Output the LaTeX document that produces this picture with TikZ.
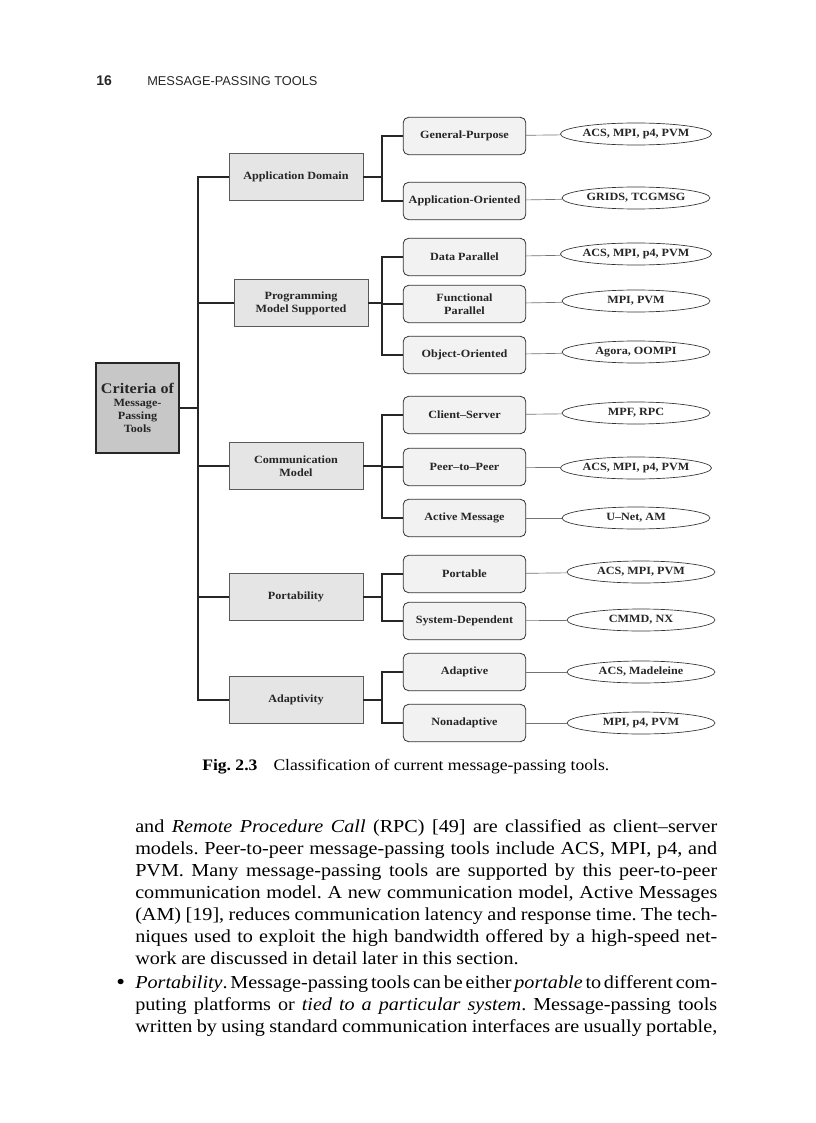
\documentclass[tikz,border=0pt]{standalone}
\usepackage{fontspec}
\setmainfont{Liberation Serif}[FakeStretch=1.10]
\setsansfont{Liberation Sans}
\usetikzlibrary{shapes.geometric}
\frenchspacing
\newcommand\tightwords{\spaceskip=.25em plus .3em minus .12em\relax}

\begin{document}
\begin{tikzpicture}[x=0.75pt,y=-0.75pt]
\tikzstyle{every node}=[inner sep=1pt, text=black!85, align=center, font=\bfseries\fontsize{8.3}{9.7}\selectfont]
\tikzstyle{root}=[draw=black!85, line width=1.4pt, fill=black!22, minimum width=62pt, minimum height=67.5pt]
\tikzstyle{group}=[draw=black!65, line width=.6pt, fill=black!10, minimum width=100.5pt, minimum height=35pt]
\tikzstyle{kind}=[draw=black!80, line width=.6pt, fill=black!5, rounded corners=4pt, minimum width=92pt, minimum height=28pt]
\tikzstyle{tools}=[draw=black!80, line width=.5pt, fill=white, ellipse, minimum width=111pt, minimum height=16.5pt, inner sep=0pt]
\tikzstyle{trunk}=[line width=1pt, black!85]
\tikzstyle{leaf}=[line width=.5pt, black!55]
\tikzstyle{prose}=[anchor=base west, inner sep=0pt, text=black, align=justify, text width=436.5pt, font=\fontsize{13.75}{16.5}\selectfont]
\useasboundingbox (0,0) rectangle (816,1123);
% page head
\draw (96,86) node (pg) [anchor=base west, inner sep=0pt, font=\sffamily\bfseries\fontsize{10.5}{12}\selectfont] {16};
\draw (147,86) node (hd) [anchor=base west, inner sep=0pt, font=\sffamily\fontsize{9.6}{11}\selectfont] {MESSAGE-PASSING TOOLS};
% root and first level
\draw (137.5,408) node (c0) [root] {{\fontsize{11}{13}\selectfont Criteria of}\\Message-\\Passing\\Tools};
\draw (296,177) node (d1) [group] {Application Domain};
\draw (301,303) node (d2) [group] {Programming\\Model Supported};
\draw (296,466) node (d3) [group] {Communication\\Model};
\draw (296,597) node (d4) [group] {Portability};
\draw (296,700) node (d5) [group] {Adaptivity};
% second level
\draw (464.5,136) node (s1) [kind] {General-Purpose};
\draw (464.5,201) node (s2) [kind] {Application-Oriented};
\draw (464.5,257) node (s3) [kind] {Data Parallel};
\draw (464.5,304) node (s4) [kind] {Functional\\Parallel};
\draw (464.5,355) node (s5) [kind] {Object-Oriented};
\draw (464.5,415) node (s6) [kind] {Client--Server};
\draw (464.5,467) node (s7) [kind] {Peer--to--Peer};
\draw (464.5,518) node (s8) [kind] {Active Message};
\draw (464.5,574) node (s9) [kind] {Portable};
\draw (464.5,621) node (s10) [kind] {System-Dependent};
\draw (464.5,672) node (s11) [kind] {Adaptive};
\draw (464.5,723) node (s12) [kind] {Nonadaptive};
% tools
\draw (636,134) node (t1) [tools] {ACS, MPI, p4, PVM};
\draw (636,198) node (t2) [tools] {GRIDS, TCGMSG};
\draw (636,254) node (t3) [tools] {ACS, MPI, p4, PVM};
\draw (636,301) node (t4) [tools] {MPI, PVM};
\draw (636,352) node (t5) [tools] {Agora, OOMPI};
\draw (636,413) node (t6) [tools] {MPF, RPC};
\draw (636,468) node (t7) [tools] {ACS, MPI, p4, PVM};
\draw (636,518) node (t8) [tools] {U--Net, AM};
\draw (641,572) node (t9) [tools] {ACS, MPI, PVM};
\draw (641,620) node (t10) [tools] {CMMD, NX};
\draw (641,672) node (t11) [tools] {ACS, Madeleine};
\draw (641,723) node (t12) [tools] {MPI, p4, PVM};
% joints
\coordinate (j0) at (198,408);
\coordinate (j1) at (382,177);
\coordinate (j2) at (382,303);
\coordinate (j3) at (382,466);
\coordinate (j4) at (382,597);
\coordinate (j5) at (382,700);
\draw[trunk] (c0.east) -- (j0);
\draw[trunk] (j0) |- (d1.west);
\draw[trunk] (j0) |- (d2.west);
\draw[trunk] (j0) |- (d3.west);
\draw[trunk] (j0) |- (d4.west);
\draw[trunk] (j0) |- (d5.west);
\draw[trunk] (d1.east) -- (j1);
\draw[trunk] (j1) |- (s1.west);
\draw[trunk] (j1) |- (s2.west);
\draw[trunk] (d2.east) -- (j2);
\draw[trunk] (j2) |- (s3.west);
\draw[trunk] (j2) |- (s4.west);
\draw[trunk] (j2) |- (s5.west);
\draw[trunk] (d3.east) -- (j3);
\draw[trunk] (j3) |- (s6.west);
\draw[trunk] (j3) |- (s7.west);
\draw[trunk] (j3) |- (s8.west);
\draw[trunk] (d4.east) -- (j4);
\draw[trunk] (j4) |- (s9.west);
\draw[trunk] (j4) |- (s10.west);
\draw[trunk] (d5.east) -- (j5);
\draw[trunk] (j5) |- (s11.west);
\draw[trunk] (j5) |- (s12.west);
\draw[leaf] (s1) -- (t1);
\draw[leaf] (s2) -- (t2);
\draw[leaf] (s3) -- (t3);
\draw[leaf] (s4) -- (t4);
\draw[leaf] (s5) -- (t5);
\draw[leaf] (s6) -- (t6);
\draw[leaf] (s7) -- (t7);
\draw[leaf] (s8) -- (t8);
\draw[leaf] (s9) -- (t9);
\draw[leaf] (s10) -- (t10);
\draw[leaf] (s11) -- (t11);
\draw[leaf] (s12) -- (t12);
% caption and text
\draw (202,770) node (cap) [anchor=base west, inner sep=0pt, text=black, font=\fontsize{12}{14}\selectfont] {\textbf{Fig. 2.3}\hspace{1em}Classification of current message-passing tools.};
\draw (135,832) node (p1) [prose] {\tightwords and \emph{Remote Procedure Call} (RPC) [49] are classified as client--server\linebreak
models. Peer-to-peer message-passing tools include ACS, MPI, p4, and\linebreak
PVM. Many message-passing tools are supported by this peer-to-peer\linebreak
communication model. A new communication model, Active Messages\linebreak
(AM) [19], reduces communication latency and response time. The tech-\linebreak
niques used to exploit the high bandwidth offered by a high-speed net-\linebreak
work are discussed in detail later in this section.};
\draw (116,989) node (bul) [anchor=base west, inner sep=0pt, text=black, font=\fontsize{17}{19}\selectfont] {\textbullet};
\draw (135,988) node (p2) [prose] {\tightwords \emph{Portability}. Message-passing tools can be either \emph{portable} to different com-\linebreak
puting platforms or \emph{tied to a particular system}. Message-passing tools\linebreak
written by using standard communication interfaces are usually portable,\parfillskip=0pt\par};
\end{tikzpicture}
\end{document}
